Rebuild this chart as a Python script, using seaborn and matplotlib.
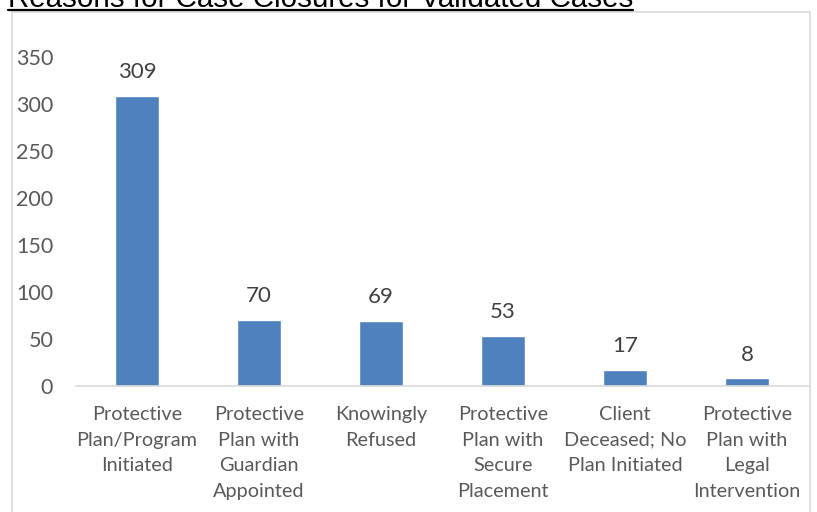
import matplotlib
matplotlib.use("Agg")
import matplotlib.pyplot as plt
import seaborn as sns
import pandas as pd
from matplotlib.patches import Rectangle
from matplotlib.lines import Line2D

categories = [
    "Protective\nPlan/Program\nInitiated",
    "Protective\nPlan with\nGuardian\nAppointed",
    "Knowingly\nRefused",
    "Protective\nPlan with\nSecure\nPlacement",
    "Client\nDeceased; No\nPlan Initiated",
    "Protective\nPlan with\nLegal\nIntervention",
]
counts = [309, 70, 69, 53, 17, 8]
yticks = [0, 50, 100, 150, 200, 250, 300, 350]
title = "Reasons for Case Closures for Validated Cases"

sns.set_theme(style="white")
plt.rcParams["font.family"] = ["Lato", "DejaVu Sans"]

W, H = 817, 512
fig = plt.figure(figsize=(W / 100, H / 100), dpi=100)
ax = fig.add_axes([76 / W, 1 - 386 / H, (808 - 76) / W, (386 - 57) / H])

df = pd.DataFrame({"reason": categories, "count": counts})
sns.barplot(data=df, x="reason", y="count", color="#4f81bd", saturation=1,
            width=0.355, ax=ax)

ax.set_ylim(0, 350)
ax.set_xlim(-0.5, len(categories) - 0.5)
ax.set_yticks(yticks)
ax.set_xlabel("")
ax.set_ylabel("")
for s in ["top", "right", "left"]:
    ax.spines[s].set_visible(False)
ax.spines["bottom"].set_color("#d9d9d9")
ax.spines["bottom"].set_linewidth(1.2)
ax.tick_params(axis="both", length=0, colors="#595959")
ax.tick_params(axis="y", labelsize=15.5, pad=16.4)
ax.tick_params(axis="x", labelsize=14.3, pad=14.5)
for lbl in ax.get_xticklabels():
    lbl.set_linespacing(1.62)

ax.bar_label(ax.containers[0], labels=[str(v) for v in counts], padding=10,
             fontsize=16, color="#404040")

# chart frame
fig.patches.append(Rectangle((12 / W, -0.05), (810 - 12) / W, 1.05 - 12 / H,
                             transform=fig.transFigure, fill=False,
                             edgecolor="#d9d9d9", linewidth=1.2))

# underlined title, partly above the top edge
t = fig.text(8 / W, 1 - 7 / H, title, ha="left", va="baseline",
             fontsize=20, color="black", family="Liberation Sans")
fig.canvas.draw()
r = fig.canvas.get_renderer()
bb = t.get_window_extent(renderer=r)
t.set_fontsize(20 * (632 - 8) / bb.width)
fig.canvas.draw()
bb = t.get_window_extent(renderer=r)
fig.lines.append(Line2D([bb.x0 / W, bb.x1 / W], [1 - 9.5 / H, 1 - 9.5 / H],
                        transform=fig.transFigure, color="black", linewidth=1.6))

fig.savefig("out.png", dpi=100)
